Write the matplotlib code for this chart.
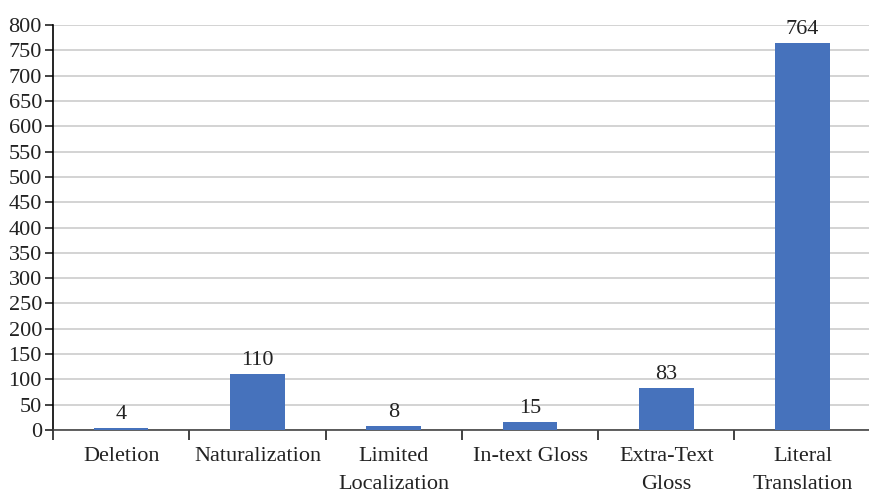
import numpy as np
import matplotlib.pyplot as plt
from matplotlib.ticker import FixedLocator

categories = ['Deletion', 'Naturalization', 'Limited\nLocalization', 'In-text Gloss',
              'Extra-Text\nGloss', 'Literal\nTranslation']
counts = [4, 110, 8, 15, 83, 764]
yticks = list(range(0, 801, 50))

plt.rcParams['font.family'] = ['Liberation Serif', 'DejaVu Serif']

fig = plt.figure(figsize=(8.69, 4.95), dpi=100)
ax = fig.add_axes([0.061, 0.1313, 0.941, 0.8182])

x = np.arange(len(categories))
bars = ax.bar(x, counts, width=0.4, color='#4672BC', zorder=3)

for xi, v in zip(x, counts):
    ax.text(xi, v + 8, str(v), ha='center', va='bottom', fontsize=16, color='#222222')

ax.set_xlim(-0.5, len(categories) - 0.5)
ax.set_ylim(0, 800)
ax.set_yticks(yticks)
ax.tick_params(axis='y', labelsize=16, length=6, width=1.2, pad=2, colors='#222222')
ax.yaxis.grid(True, color='#d0d0d0', linewidth=1.3, zorder=0)

ax.set_xticks(x)
ax.set_xticklabels(categories, fontsize=16, color='#222222', linespacing=1.7)
ax.tick_params(axis='x', which='major', length=0, pad=12)
ax.xaxis.set_minor_locator(FixedLocator(np.arange(-0.5, len(categories), 1.0)))
ax.tick_params(axis='x', which='minor', length=7, width=1.2, color='#222222')

for s in ['top', 'right']:
    ax.spines[s].set_visible(False)
ax.spines['left'].set_linewidth(1.2)
ax.spines['bottom'].set_linewidth(1.2)
ax.spines['bottom'].set_color('#444444')

fig.savefig('out.png', dpi=100)
